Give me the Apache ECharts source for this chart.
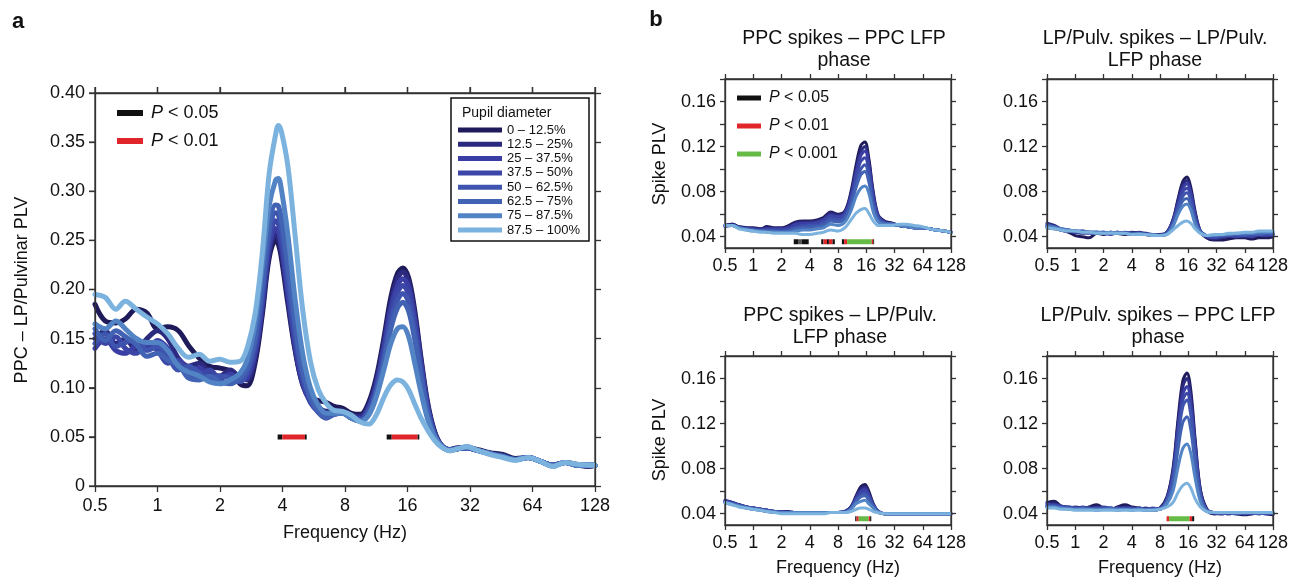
<!DOCTYPE html>
<html><head><meta charset="utf-8">
<script src="https://cdn.jsdelivr.net/npm/echarts@6/dist/echarts.min.js"></script>
<style>html,body{margin:0;padding:0;background:#fff}#c{width:1295px;height:581px}</style>
</head><body><div id="c"></div>
<script>
// ---------------- DATA ----------------
const groups = ['0 – 12.5%','12.5 – 25%','25 – 37.5%','37.5 – 50%','50 – 62.5%','62.5 – 75%','75 – 87.5%','87.5 – 100%'];
const xTicks = [0.5,1,2,4,8,16,32,64,128];
const yTicksA = [0,0.05,0.10,0.15,0.20,0.25,0.30,0.35,0.40];
const yLabelsB = [0.04,0.08,0.12,0.16];
const yTicksB = [0.04,0.06,0.08,0.10,0.12,0.14,0.16,0.18];

// Panel a frequencies (Hz)
const freqA = [0.5,0.56,0.63,0.7,0.79,0.89,1.0,1.12,1.26,1.41,1.59,1.78,2.0,2.24,2.5,2.7,2.95,3.2,3.45,3.7,3.82,3.95,4.25,4.6,5.0,5.45,5.95,6.5,7.1,7.8,8.6,9.5,10.4,11.3,12.3,13.3,14.3,15.2,16.2,17.3,18.6,20,21.5,23.2,25.5,28,31,35,40,46,53,61,70,80,92,106,120,128];
const a0 = [0.185,0.168,0.166,0.170,0.180,0.176,0.160,0.162,0.158,0.143, 0.130,0.122,0.120,0.117,0.104,0.102,0.125,0.175,0.232,0.250,0.246, 0.232,0.185,0.138,0.104,0.090,0.087,0.085,0.081,0.079,0.074, 0.073,0.085,0.110,0.150,0.192,0.216,0.222,0.212,0.180,0.130, 0.085,0.057,0.042,0.037,0.039,0.039,0.037,0.034,0.032,0.028, 0.029,0.025,0.021,0.024,0.022,0.020,0.021];
const a1 = [0.150,0.158,0.145,0.150,0.138,0.150,0.158,0.150,0.130,0.122, 0.125,0.115,0.112,0.118,0.110,0.108,0.130,0.180,0.237,0.256,0.252, 0.238,0.190,0.140,0.103,0.087,0.080,0.076,0.077,0.076,0.071, 0.071,0.082,0.106,0.145,0.186,0.211,0.218,0.208,0.176,0.127, 0.083,0.056,0.042,0.037,0.038,0.039,0.036,0.033,0.031,0.027, 0.029,0.025,0.021,0.024,0.021,0.020,0.021];
const a2 = [0.140,0.150,0.138,0.135,0.142,0.140,0.148,0.140,0.122,0.118, 0.120,0.112,0.110,0.114,0.108,0.110,0.135,0.186,0.243,0.262,0.259, 0.245,0.196,0.144,0.105,0.085,0.076,0.072,0.075,0.075,0.070, 0.069,0.080,0.102,0.140,0.180,0.204,0.211,0.202,0.171,0.124, 0.081,0.055,0.042,0.037,0.038,0.039,0.036,0.033,0.030,0.027, 0.029,0.025,0.021,0.024,0.021,0.021,0.021];
const a3 = [0.155,0.145,0.152,0.140,0.135,0.145,0.138,0.125,0.128,0.115, 0.112,0.118,0.108,0.105,0.112,0.114,0.140,0.192,0.250,0.270,0.267, 0.252,0.203,0.150,0.108,0.086,0.075,0.070,0.074,0.074,0.069, 0.068,0.078,0.099,0.135,0.174,0.197,0.204,0.195,0.165,0.120, 0.079,0.054,0.041,0.037,0.038,0.039,0.036,0.033,0.030,0.027, 0.029,0.025,0.021,0.024,0.021,0.021,0.021];
const a4 = [0.145,0.155,0.142,0.146,0.150,0.138,0.142,0.132,0.118,0.122, 0.115,0.108,0.112,0.110,0.106,0.116,0.145,0.198,0.256,0.278,0.276, 0.262,0.212,0.157,0.112,0.088,0.075,0.069,0.073,0.074,0.069, 0.067,0.076,0.096,0.130,0.167,0.189,0.196,0.187,0.158,0.115, 0.077,0.053,0.041,0.037,0.038,0.039,0.036,0.033,0.030,0.027, 0.029,0.025,0.021,0.024,0.021,0.021,0.021];
const a5 = [0.160,0.148,0.158,0.152,0.144,0.132,0.135,0.128,0.124,0.110, 0.108,0.112,0.106,0.104,0.110,0.120,0.150,0.205,0.264,0.286,0.285, 0.272,0.225,0.167,0.118,0.090,0.076,0.070,0.073,0.074,0.069, 0.066,0.074,0.094,0.125,0.160,0.181,0.187,0.178,0.150,0.110, 0.074,0.052,0.041,0.037,0.038,0.039,0.036,0.033,0.030,0.027, 0.029,0.025,0.021,0.024,0.021,0.021,0.021];
const a6 = [0.165,0.160,0.168,0.160,0.150,0.146,0.146,0.138,0.122,0.116, 0.112,0.106,0.104,0.108,0.115,0.128,0.165,0.225,0.285,0.311,0.313, 0.302,0.255,0.190,0.135,0.100,0.082,0.074,0.074,0.074,0.069, 0.066,0.072,0.090,0.118,0.145,0.160,0.162,0.152,0.126,0.095, 0.068,0.051,0.041,0.036,0.038,0.040,0.036,0.033,0.030,0.027, 0.029,0.025,0.020,0.024,0.021,0.021,0.021];
const a7 = [0.195,0.192,0.180,0.188,0.180,0.172,0.165,0.155,0.140,0.131, 0.134,0.127,0.129,0.126,0.127,0.140,0.175,0.238,0.318,0.357,0.367, 0.361,0.325,0.255,0.180,0.127,0.098,0.084,0.077,0.076,0.072, 0.065,0.063,0.072,0.090,0.103,0.108,0.106,0.098,0.084,0.069, 0.057,0.047,0.040,0.036,0.038,0.040,0.036,0.032,0.029,0.026, 0.029,0.025,0.020,0.024,0.022,0.021,0.021];

// Panel b frequencies (Hz)
const freqB = [0.5,0.6,0.7,0.85,1.0,1.2,1.4,1.7,2.0,2.4,2.8,3.4,4.0,4.8,5.6,6.7,8.0,9.5,11,12.5,14,15.5,17,19,21.5,25,30,36,43,52,64,76,90,108,128];
// PPC spikes – PPC LFP phase
const tl0 = [0.050,0.051,0.049,0.048,0.048,0.047,0.049,0.048,0.048,0.050, 0.053,0.054,0.054,0.055,0.057,0.062,0.060,0.063,0.080,0.104, 0.121,0.124,0.110,0.080,0.059,0.054,0.052,0.050,0.049,0.048, 0.048,0.047,0.046,0.045,0.044];
const tl1 = [0.050,0.051,0.049,0.048,0.047,0.047,0.048,0.047,0.047,0.049, 0.052,0.053,0.053,0.054,0.056,0.061,0.059,0.062,0.078,0.100, 0.116,0.120,0.107,0.078,0.058,0.053,0.052,0.050,0.049,0.048, 0.048,0.047,0.046,0.045,0.044];
const tl2 = [0.049,0.050,0.048,0.047,0.047,0.046,0.047,0.047,0.047,0.048, 0.051,0.052,0.052,0.053,0.055,0.059,0.058,0.061,0.076,0.097, 0.112,0.116,0.104,0.076,0.058,0.053,0.051,0.050,0.049,0.048, 0.048,0.047,0.046,0.045,0.044];
const tl3 = [0.050,0.050,0.048,0.047,0.046,0.046,0.046,0.046,0.046,0.047, 0.049,0.050,0.051,0.052,0.054,0.058,0.057,0.060,0.074,0.093, 0.107,0.110,0.099,0.073,0.057,0.052,0.051,0.050,0.049,0.048, 0.048,0.047,0.046,0.045,0.044];
const tl4 = [0.050,0.050,0.048,0.047,0.046,0.045,0.046,0.045,0.045,0.046, 0.048,0.049,0.050,0.050,0.052,0.056,0.055,0.058,0.071,0.088, 0.100,0.104,0.094,0.070,0.056,0.052,0.051,0.050,0.049,0.048, 0.048,0.047,0.046,0.045,0.044];
const tl5 = [0.050,0.050,0.048,0.047,0.046,0.045,0.045,0.045,0.044,0.045, 0.047,0.048,0.048,0.049,0.050,0.054,0.053,0.056,0.068,0.084, 0.095,0.098,0.089,0.067,0.055,0.052,0.051,0.050,0.049,0.048, 0.048,0.047,0.046,0.045,0.044];
const tl6 = [0.050,0.050,0.048,0.046,0.045,0.045,0.044,0.044,0.044,0.044, 0.045,0.046,0.046,0.047,0.048,0.051,0.050,0.053,0.063,0.076, 0.083,0.085,0.079,0.062,0.053,0.051,0.051,0.050,0.049,0.048, 0.048,0.047,0.046,0.045,0.044];
const tl7 = [0.050,0.050,0.047,0.046,0.045,0.044,0.044,0.043,0.043,0.043, 0.043,0.042,0.042,0.043,0.044,0.046,0.045,0.048,0.055,0.061, 0.064,0.065,0.061,0.054,0.050,0.050,0.050,0.051,0.051,0.050, 0.049,0.047,0.046,0.045,0.044];
// LP/Pulv. spikes – LP/Pulv. LFP phase
const tr0 = [0.048,0.047,0.046,0.044,0.041,0.040,0.039,0.043,0.042,0.044, 0.043,0.042,0.044,0.043,0.042,0.041,0.041,0.044,0.055,0.074, 0.089,0.093,0.084,0.062,0.045,0.039,0.037,0.037,0.038,0.039, 0.039,0.038,0.039,0.039,0.040];
const tr1 = [0.052,0.050,0.047,0.045,0.044,0.043,0.044,0.043,0.044,0.043, 0.044,0.043,0.043,0.044,0.043,0.042,0.042,0.044,0.055,0.072, 0.086,0.090,0.081,0.060,0.045,0.040,0.038,0.039,0.040,0.041, 0.040,0.041,0.041,0.042,0.041];
const tr2 = [0.050,0.049,0.046,0.045,0.045,0.044,0.043,0.044,0.043,0.042, 0.044,0.043,0.042,0.043,0.042,0.042,0.041,0.044,0.054,0.070, 0.083,0.087,0.079,0.059,0.045,0.040,0.039,0.040,0.041,0.040, 0.041,0.040,0.042,0.041,0.042];
const tr3 = [0.049,0.048,0.047,0.046,0.044,0.045,0.044,0.043,0.044,0.043, 0.043,0.044,0.043,0.042,0.043,0.041,0.041,0.043,0.053,0.068, 0.080,0.083,0.076,0.057,0.045,0.041,0.040,0.040,0.041,0.041, 0.042,0.041,0.042,0.042,0.042];
const tr4 = [0.051,0.048,0.046,0.045,0.045,0.044,0.044,0.044,0.043,0.044, 0.043,0.043,0.043,0.043,0.042,0.042,0.041,0.043,0.052,0.066, 0.076,0.079,0.072,0.055,0.045,0.041,0.040,0.041,0.041,0.042, 0.041,0.042,0.042,0.043,0.042];
const tr5 = [0.050,0.049,0.047,0.046,0.045,0.045,0.044,0.044,0.044,0.043, 0.044,0.043,0.043,0.042,0.042,0.042,0.041,0.043,0.051,0.063, 0.072,0.074,0.068,0.053,0.044,0.041,0.041,0.041,0.042,0.042, 0.042,0.043,0.042,0.043,0.043];
const tr6 = [0.049,0.048,0.047,0.046,0.045,0.044,0.044,0.044,0.043,0.044, 0.043,0.043,0.042,0.043,0.042,0.042,0.041,0.042,0.049,0.060, 0.067,0.069,0.064,0.051,0.044,0.041,0.041,0.042,0.042,0.043, 0.043,0.043,0.044,0.044,0.044];
const tr7 = [0.048,0.047,0.046,0.045,0.045,0.044,0.044,0.043,0.043,0.043, 0.043,0.043,0.042,0.042,0.042,0.041,0.041,0.042,0.046,0.050, 0.053,0.054,0.052,0.047,0.043,0.041,0.042,0.042,0.043,0.043, 0.044,0.044,0.045,0.045,0.045];
// PPC spikes – LP/Pulv. LFP phase
const bl0 = [0.051,0.049,0.048,0.046,0.045,0.044,0.043,0.042,0.042,0.041, 0.041,0.041,0.041,0.041,0.041,0.041,0.041,0.042,0.046,0.056, 0.064,0.066,0.060,0.049,0.042,0.040,0.040,0.040,0.040,0.040, 0.040,0.040,0.040,0.040,0.040];
const bl1 = [0.052,0.050,0.048,0.046,0.045,0.044,0.043,0.042,0.042,0.042, 0.041,0.041,0.041,0.041,0.041,0.041,0.041,0.042,0.046,0.055, 0.062,0.064,0.058,0.048,0.042,0.040,0.040,0.040,0.040,0.040, 0.040,0.040,0.040,0.040,0.040];
const bl2 = [0.051,0.050,0.048,0.046,0.045,0.044,0.043,0.042,0.042,0.041, 0.041,0.041,0.041,0.041,0.041,0.041,0.041,0.042,0.045,0.054, 0.060,0.062,0.057,0.048,0.042,0.040,0.040,0.040,0.040,0.040, 0.040,0.040,0.040,0.040,0.040];
const bl3 = [0.051,0.049,0.048,0.046,0.045,0.044,0.043,0.042,0.041,0.041, 0.041,0.041,0.041,0.041,0.041,0.041,0.041,0.042,0.045,0.053, 0.058,0.060,0.055,0.047,0.042,0.040,0.040,0.040,0.040,0.040, 0.040,0.040,0.040,0.040,0.040];
const bl4 = [0.050,0.049,0.047,0.046,0.045,0.044,0.043,0.042,0.041,0.041, 0.041,0.041,0.041,0.041,0.041,0.041,0.041,0.042,0.045,0.052, 0.056,0.058,0.054,0.047,0.042,0.040,0.040,0.040,0.040,0.040, 0.040,0.040,0.040,0.040,0.040];
const bl5 = [0.050,0.049,0.047,0.045,0.044,0.043,0.042,0.042,0.041,0.041, 0.041,0.041,0.041,0.041,0.041,0.041,0.041,0.041,0.044,0.051, 0.055,0.056,0.052,0.046,0.042,0.040,0.040,0.040,0.040,0.040, 0.040,0.040,0.040,0.040,0.040];
const bl6 = [0.050,0.048,0.047,0.045,0.044,0.043,0.042,0.041,0.041,0.041, 0.041,0.041,0.041,0.041,0.041,0.041,0.041,0.041,0.044,0.049, 0.051,0.052,0.049,0.045,0.041,0.040,0.040,0.040,0.040,0.040, 0.040,0.040,0.040,0.040,0.040];
const bl7 = [0.050,0.048,0.046,0.045,0.044,0.043,0.042,0.041,0.040,0.040, 0.040,0.040,0.040,0.040,0.040,0.041,0.041,0.041,0.042,0.044, 0.045,0.045,0.044,0.042,0.041,0.040,0.040,0.040,0.040,0.040, 0.040,0.040,0.040,0.040,0.040];
// LP/Pulv. spikes – PPC LFP phase
const br0 = [0.050,0.051,0.047,0.046,0.045,0.044,0.046,0.048,0.045,0.044, 0.046,0.048,0.046,0.045,0.044,0.043,0.045,0.055,0.080,0.125, 0.158,0.165,0.150,0.105,0.062,0.045,0.040,0.040,0.041,0.040, 0.039,0.040,0.041,0.040,0.039];
const br1 = [0.048,0.049,0.046,0.045,0.046,0.045,0.044,0.046,0.044,0.045, 0.044,0.046,0.045,0.044,0.045,0.044,0.045,0.054,0.078,0.121, 0.153,0.160,0.145,0.102,0.061,0.044,0.040,0.041,0.040,0.041, 0.040,0.041,0.040,0.041,0.040];
const br2 = [0.047,0.048,0.047,0.045,0.044,0.046,0.045,0.045,0.045,0.044, 0.045,0.045,0.044,0.045,0.044,0.044,0.045,0.053,0.075,0.116, 0.146,0.153,0.139,0.098,0.059,0.044,0.041,0.040,0.041,0.040, 0.041,0.040,0.041,0.040,0.041];
const br3 = [0.049,0.047,0.046,0.046,0.045,0.044,0.045,0.044,0.046,0.045, 0.044,0.045,0.045,0.044,0.044,0.045,0.044,0.053,0.073,0.112, 0.141,0.147,0.134,0.095,0.058,0.044,0.041,0.041,0.040,0.041, 0.041,0.040,0.041,0.041,0.040];
const br4 = [0.046,0.047,0.046,0.045,0.045,0.044,0.044,0.045,0.044,0.044, 0.045,0.044,0.044,0.045,0.044,0.044,0.044,0.052,0.071,0.108, 0.135,0.141,0.128,0.091,0.057,0.043,0.041,0.040,0.041,0.041, 0.040,0.041,0.041,0.040,0.041];
const br5 = [0.047,0.046,0.045,0.045,0.044,0.045,0.044,0.044,0.044,0.045, 0.044,0.044,0.044,0.044,0.043,0.044,0.044,0.051,0.066,0.098, 0.121,0.126,0.115,0.083,0.055,0.043,0.041,0.041,0.041,0.040, 0.041,0.041,0.040,0.041,0.040];
const br6 = [0.046,0.046,0.045,0.044,0.044,0.044,0.044,0.043,0.044,0.044, 0.043,0.044,0.043,0.044,0.043,0.043,0.044,0.049,0.060,0.082, 0.098,0.102,0.094,0.071,0.051,0.042,0.041,0.041,0.041,0.041, 0.041,0.041,0.041,0.041,0.041];
const br7 = [0.045,0.045,0.044,0.044,0.043,0.043,0.043,0.043,0.043,0.043, 0.043,0.043,0.043,0.043,0.043,0.043,0.044,0.046,0.050,0.059, 0.065,0.067,0.063,0.053,0.046,0.042,0.041,0.041,0.041,0.041, 0.041,0.041,0.041,0.041,0.041];

// Significance bars: [start Hz, end Hz, level]
const sigA = [[3.79,3.99,'p05'],[3.99,5.13,'p01'],[5.13,5.23,'p05'],[12.7,13.43,'p05'],[13.43,17.9,'p01'],[17.9,18.24,'p05']];
const sigAy = 0.05;
const sigTL = [[2.7,3.0,'p05'],[3.0,3.3,'gray'],[3.3,3.9,'p05'],[5.3,5.6,'p05'],[5.6,6.1,'p01'],[6.1,6.4,'p05'],[6.4,7.0,'p01'],[7.0,7.4,'p05'],[8.8,9.3,'p05'],[9.3,10.0,'p01'],[10.0,18.3,'p001'],[18.3,19.0,'p01'],[19.0,19.4,'p05']];
const sigBL = [[12.2,12.6,'p05'],[12.6,13.3,'p01'],[13.3,17.0,'p001'],[17.0,17.6,'p01'],[17.6,18.1,'p05']];
const sigBR = [[9.4,10.0,'p01'],[10.0,16.5,'p001'],[16.5,17.6,'p01'],[17.6,18.5,'p05']];
const sigBy = 0.0355;

// ---------------- STYLE ----------------
const FONT = '"Liberation Sans", Arial, Helvetica, sans-serif';
const AX = '#333333';
const TXT = '#111111';
const COLORS = ['#1f1b5b','#2c2a7e','#3a3ea4','#3b46a7','#3e54ae','#4262b3','#5283c4','#7bb2de'];
const SIGCOL = {p05:'#111111', p01:'#e0262b', p001:'#66bb47', gray:'#555555'};

const gridsPos = [
  {left:95, top:93, width:500, height:393},
  {left:725, top:79, width:226, height:169},
  {left:1047, top:79, width:226, height:169},
  {left:725, top:356, width:226, height:169},
  {left:1047, top:356, width:226, height:169}
];

function xAx(gi, pos, show, fs, margin, tl) {
  return {type:'log', logBase:2, min:0.5, max:128, interval:1, gridIndex:gi, position:pos, z:12,
    axisLine:{show:true, onZero:false, lineStyle:{color:AX, width:1.3}},
    axisTick:{show:true, inside:false, length:tl, lineStyle:{color:AX, width:1.3}},
    axisLabel:{show:show, margin:margin, fontSize:fs, fontFamily:FONT, color:TXT, hideOverlap:false, showMinLabel:true, showMaxLabel:true,
      formatter:function(v){return String(+Number(v).toPrecision(4));}},
    splitLine:{show:false}, minorTick:{show:false}};
}
function yAxA(gi, pos, show) {
  return {type:'value', min:0, max:0.4, interval:0.05, gridIndex:gi, position:pos, z:12,
    axisLine:{show:true, onZero:false, lineStyle:{color:AX, width:1.3}},
    axisTick:{show:true, inside:false, length:6, lineStyle:{color:AX, width:1.3}},
    axisLabel:{show:show, margin:10, fontSize:18, fontFamily:FONT, color:TXT,
      formatter:function(v){return Math.abs(v)<1e-9?'0':v.toFixed(2);}},
    splitLine:{show:false}};
}
function yAxB(gi, pos, show) {
  return {type:'value', min:0.03, max:0.18, gridIndex:gi, position:pos, z:12,
    axisLine:{show:true, onZero:false, lineStyle:{color:AX, width:1.3}},
    axisTick:{show:true, inside:false, length:5, customValues:yTicksB, lineStyle:{color:AX, width:1.3}},
    axisLabel:{show:show, margin:9, fontSize:18, fontFamily:FONT, color:TXT, customValues:yLabelsB,
      formatter:function(v){return v.toFixed(2);}},
    splitLine:{show:false}};
}

const xAxes = [], yAxes = [];
gridsPos.forEach(function(g, gi){
  if (gi === 0) {
    xAxes.push(xAx(0,'bottom',true,18,11,6));
    xAxes.push(xAx(0,'top',false,18,11,6));
    yAxes.push(yAxA(0,'left',true));
    yAxes.push(yAxA(0,'right',false));
  } else {
    xAxes.push(xAx(gi,'bottom',true,18,9,5));
    xAxes.push(xAx(gi,'top',false,18,9,5));
    yAxes.push(yAxB(gi,'left',true));
    yAxes.push(yAxB(gi,'right',false));
  }
});

const series = [];
const A = [a0,a1,a2,a3,a4,a5,a6,a7];
A.forEach(function(arr,i){
  series.push({name:groups[i], type:'line', xAxisIndex:0, yAxisIndex:0, smooth:0.35, symbol:'none', showSymbol:false,
    lineStyle:{width:5, color:COLORS[i], cap:'round', join:'round'}, itemStyle:{color:COLORS[i]},
    data:freqA.map(function(f,j){return [f, arr[j]];}), z:2+i});
});
const panelsB = [
  {gi:1, d:[tl0,tl1,tl2,tl3,tl4,tl5,tl6,tl7], sig:sigTL},
  {gi:2, d:[tr0,tr1,tr2,tr3,tr4,tr5,tr6,tr7], sig:null},
  {gi:3, d:[bl0,bl1,bl2,bl3,bl4,bl5,bl6,bl7], sig:sigBL},
  {gi:4, d:[br0,br1,br2,br3,br4,br5,br6,br7], sig:sigBR}
];
panelsB.forEach(function(p){
  p.d.forEach(function(arr,i){
    series.push({name:groups[i], type:'line', xAxisIndex:2*p.gi, yAxisIndex:2*p.gi, smooth:0.35, symbol:'none', showSymbol:false,
      lineStyle:{width:3, color:COLORS[i], cap:'round', join:'round'}, itemStyle:{color:COLORS[i]},
      data:freqB.map(function(f,j){return [f, arr[j]];}), z:2+i});
  });
  if (p.sig) {
    p.sig.forEach(function(s){
      series.push({name:'sig', type:'line', xAxisIndex:2*p.gi, yAxisIndex:2*p.gi, symbol:'none', silent:true,
        lineStyle:{width:5, color:SIGCOL[s[2]], cap:'butt'}, data:[[s[0],sigBy],[s[1],sigBy]], z:11});
    });
  }
});
sigA.forEach(function(s){
  series.push({name:'sig', type:'line', xAxisIndex:0, yAxisIndex:0, symbol:'none', silent:true,
    lineStyle:{width:5, color:SIGCOL[s[2]], cap:'butt'}, data:[[s[0],sigAy],[s[1],sigAy]], z:11});
});
// Panel a frame ticks on the top and left edges, positioned through the axes' own scales
series.push({name:'ticksTop', type:'custom', xAxisIndex:0, yAxisIndex:0, silent:true, clip:false, z:12,
  data:xTicks.map(function(v){return [v, 0.4];}),
  renderItem:function(params, api){
    const p = api.coord([api.value(0), api.value(1)]);
    return {type:'line', shape:{x1:p[0], y1:p[1], x2:p[0], y2:p[1]-6}, style:{stroke:AX, lineWidth:1.3}};
  }});
series.push({name:'ticksLeft', type:'custom', xAxisIndex:0, yAxisIndex:0, silent:true, clip:false, z:12,
  data:yTicksA.map(function(v){return [0.5, v];}),
  renderItem:function(params, api){
    const p = api.coord([api.value(0), api.value(1)]);
    return {type:'line', shape:{x1:p[0], y1:p[1], x2:p[0]-6, y2:p[1]}, style:{stroke:AX, lineWidth:1.3}};
  }});

// ---------------- GRAPHIC TEXT ----------------
const G = [];
function T(x, y, text, size, opt) {
  opt = opt || {};
  G.push({type:'text', x:x, y:y, rotation:opt.rot||0, z:10,
    style:{text:text, fill:TXT, font:(opt.weight||'normal')+' '+size+'px '+FONT, align:opt.align||'center', verticalAlign:opt.va||'middle', lineHeight:opt.lh||size}});
}
function PL(x, y, len, lw, key, label, size) {
  G.push({type:'line', z:10, shape:{x1:x, y1:y, x2:x+len, y2:y}, style:{stroke:SIGCOL[key], lineWidth:lw}});
  G.push({type:'text', x:x+len+8, y:y, z:10, style:{text:'{i|P}{n| < '+label+'}', align:'left', verticalAlign:'middle',
    rich:{i:{fontStyle:'italic', fontSize:size, fontFamily:FONT, fill:TXT}, n:{fontSize:size, fontFamily:FONT, fill:TXT}}}});
}
T(18, 22, 'a', 22, {weight:'bold'});
T(656, 20, 'b', 22, {weight:'bold'});
T(22, 290, 'PPC – LP/Pulvinar PLV', 18, {rot:Math.PI/2});
T(345, 533, 'Frequency (Hz)', 18);
T(660, 164, 'Spike PLV', 18, {rot:Math.PI/2});
T(660, 440, 'Spike PLV', 18, {rot:Math.PI/2});
T(838, 568, 'Frequency (Hz)', 18);
T(1160, 568, 'Frequency (Hz)', 18);
T(844, 28, 'PPC spikes – PPC LFP\nphase', 19.5, {va:'top', lh:22});
T(1155, 28, 'LP/Pulv. spikes – LP/Pulv.\nLFP phase', 19.5, {va:'top', lh:22});
T(840, 305, 'PPC spikes – LP/Pulv.\nLFP phase', 19.5, {va:'top', lh:22});
T(1158, 305, 'LP/Pulv. spikes – PPC LFP\nphase', 19.5, {va:'top', lh:22});
PL(117, 113, 26, 6, 'p05', '0.05', 18);
PL(117, 141, 26, 6, 'p01', '0.01', 18);
PL(737, 98, 24, 5, 'p05', '0.05', 16);
PL(737, 126, 24, 5, 'p01', '0.01', 16);
PL(737, 154, 24, 5, 'p001', '0.001', 16);
G.push({type:'rect', z:3, shape:{x:451, y:98, width:138, height:143}, style:{fill:'#fff', stroke:'#111', lineWidth:1.5}});
T(462, 113, 'Pupil diameter', 14, {align:'left'});

const gridOpts = gridsPos.map(function(g){return Object.assign({outerBoundsMode:'none', containLabel:false, show:true, backgroundColor:'transparent', borderColor:AX, borderWidth:1.3}, g);});

const option = {
  animation:false,
  backgroundColor:'#ffffff',
  grid: gridOpts,
  xAxis: xAxes,
  yAxis: yAxes,
  legend: {data:groups, orient:'vertical', left:458, top:123, itemWidth:44, itemHeight:5, itemGap:0.3, icon:'rect', padding:0, z:6,
    selectedMode:false, textStyle:{fontSize:13, lineHeight:14, fontFamily:FONT, color:TXT}},
  series: series,
  graphic: G
};
const chart = echarts.init(document.getElementById('c'));
chart.setOption(option);
</script>
</body></html>
